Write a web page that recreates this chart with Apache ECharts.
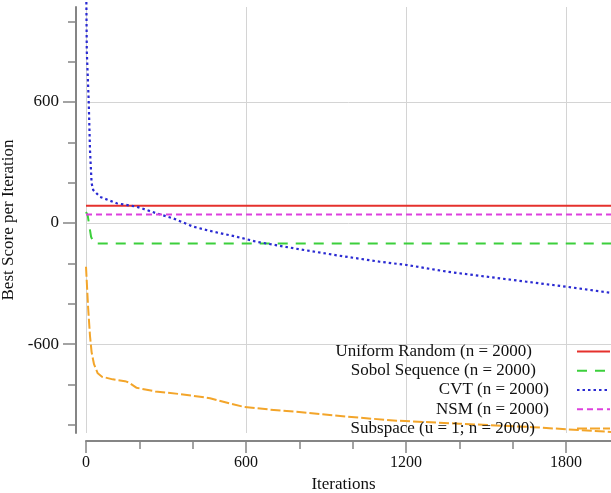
<!DOCTYPE html>
<html>
<head>
<meta charset="utf-8">
<style>
  html, body { margin: 0; padding: 0; background: #fff; }
  #main { width: 611px; height: 493px; }
</style>
<script src="https://cdn.jsdelivr.net/npm/echarts@6/dist/echarts.min.js"></script>
</head>
<body>
<div id="main"></div>
<script type="text/javascript">
    // series names, in legend order
    var seriesNames = ['Uniform Random (n = 2000)', 'Sobol Sequence (n = 2000)', 'CVT (n = 2000)', 'NSM (n = 2000)', 'Subspace (u = 1; n = 2000)'];

    // [iteration, best score]
    var uniformData = [[0, 86], [1969, 86]];
    var sobolData = [[0, 55], [6, 40], [12, -10], [19, -68], [28, -95], [37, -101], [1969, -101]];
    var cvtData = [[1, 1150], [3, 850], [10, 610], [15, 362], [21, 198], [27, 164], [52, 130], [115, 98],
        [190, 81], [265, 48], [327, 23], [402, -18], [477, -43], [565, -68], [640, -93], [800, -130],
        [950, -162], [1102, -192], [1203, -208], [1353, -241], [1503, -266], [1653, -291], [1803, -316], [1969, -346]];
    var nsmData = [[0, 42], [1969, 42]];
    var subspaceData = [[0, -217], [8, -420], [15, -560], [21, -640], [30, -700], [44, -745], [60, -762],
        [100, -775], [146, -784], [160, -790], [190, -817], [260, -835], [352, -848], [428, -861],
        [465, -869], [540, -895], [590, -911], [690, -925], [790, -936], [978, -960], [1165, -980],
        [1400, -995], [1676, -1012], [1969, -1036]];

    // axis ticks
    var xMinorTicks = [0, 200, 400, 600, 800, 1000, 1200, 1400, 1600, 1800];
    var xMajorTicks = [0, 600, 1200, 1800];
    var yMinorTicks = [-1000, -800, -600, -400, -200, 0, 200, 400, 600, 800, 1000];
    var yMajorTicks = [-600, 0, 600];

    var font = 'Liberation Serif';
    var axisGray = '#858585';
    var plain = function (v) { return String(v); };

    var myChart = echarts.init(document.getElementById('main'));

    var xRange = {min: 0, max: 1969};
    var yRange = {min: -1041, max: 1071};

    option = {
        animation: false,
        backgroundColor: '#fff',
        grid: {left: 86, right: 0, top: 7, bottom: 60, containLabel: false, outerBoundsMode: 'none'},
        legend: {
            orient: 'vertical',
            align: 'right',
            right: 0,
            top: 343,
            padding: 0,
            itemWidth: 33,
            itemHeight: 10,
            itemGap: 2.25,
            itemStyle: {opacity: 0},   // hide the little circle, keep the line
            textStyle: {fontFamily: font, fontSize: 17, lineHeight: 17, color: '#111'},
            data: [
                {name: seriesNames[0], textStyle: {padding: [0, 40, 0, 0]}},
                {name: seriesNames[1], textStyle: {padding: [0, 36, 0, 0]}},
                {name: seriesNames[2], textStyle: {padding: [0, 23, 0, 0]}},
                {name: seriesNames[3], textStyle: {padding: [0, 23, 0, 0]}},
                {name: seriesNames[4], textStyle: {padding: [0, 37, 0, 0]}}
            ]
        },
        xAxis: [
            {
                // minor ticks + axis line
                type: 'value', position: 'bottom', offset: 8,
                min: xRange.min, max: xRange.max,
                axisLine: {show: true, onZero: false, lineStyle: {color: axisGray, width: 2}},
                axisTick: {show: true, length: 8, customValues: xMinorTicks, lineStyle: {color: axisGray, width: 1.5}},
                axisLabel: {show: false},
                splitLine: {show: false}
            },
            {
                // major ticks, labels, grid lines
                type: 'value', position: 'bottom', offset: 8,
                min: xRange.min, max: xRange.max,
                name: 'Iterations',
                nameLocation: 'middle',
                nameGap: 33,
                nameTextStyle: {fontFamily: font, fontSize: 17, color: '#111', padding: [0, 10, 0, 0]},
                axisLine: {show: false, onZero: false},
                axisTick: {show: true, length: 12, customValues: xMajorTicks, lineStyle: {color: axisGray, width: 1.5}},
                axisLabel: {customValues: xMajorTicks, formatter: plain, margin: 14, fontFamily: font, fontSize: 16, color: '#111'},
                splitLine: {show: true, lineStyle: {color: '#d4d4d4', width: 1}}
            }
        ],
        yAxis: [
            {
                type: 'value', position: 'left', offset: 10,
                min: yRange.min, max: yRange.max,
                axisLine: {show: true, onZero: false, lineStyle: {color: axisGray, width: 2}},
                axisTick: {show: true, length: 8, customValues: yMinorTicks, lineStyle: {color: axisGray, width: 1.5}},
                axisLabel: {show: false},
                splitLine: {show: false}
            },
            {
                type: 'value', position: 'left', offset: 10,
                min: yRange.min, max: yRange.max,
                name: 'Best Score per Iteration',
                nameLocation: 'middle',
                nameGap: 44,
                nameTextStyle: {fontFamily: font, fontSize: 17, color: '#111'},
                axisLine: {show: false, onZero: false},
                axisTick: {show: true, length: 13, customValues: yMajorTicks, lineStyle: {color: axisGray, width: 1.5}},
                axisLabel: {customValues: yMajorTicks, formatter: plain, margin: 17, fontFamily: font, fontSize: 17, color: '#111'},
                splitLine: {show: true, lineStyle: {color: '#d4d4d4', width: 1}}
            }
        ],
        series: [
            {
                name: seriesNames[0], type: 'line', symbol: 'none', data: uniformData,
                itemStyle: {color: '#e5312c'},
                lineStyle: {color: '#e5312c', width: 2, type: 'solid'}
            },
            {
                name: seriesNames[1], type: 'line', symbol: 'none', data: sobolData,
                itemStyle: {color: '#3ccf3c'},
                lineStyle: {color: '#3ccf3c', width: 2, type: [10, 8]}
            },
            {
                name: seriesNames[2], type: 'line', symbol: 'none', data: cvtData, clip: false,
                itemStyle: {color: '#2a2ad2'},
                lineStyle: {color: '#2a2ad2', width: 2.2, type: [2.5, 3]}
            },
            {
                name: seriesNames[3], type: 'line', symbol: 'none', data: nsmData,
                itemStyle: {color: '#dd40dd'},
                lineStyle: {color: '#dd40dd', width: 2, type: [6, 4]}
            },
            {
                name: seriesNames[4], type: 'line', symbol: 'none', data: subspaceData,
                itemStyle: {color: '#f3a52a'},
                lineStyle: {color: '#f3a52a', width: 2, type: [10, 3]}
            }
        ]
    };

    myChart.setOption(option);
</script>
</body>
</html>
